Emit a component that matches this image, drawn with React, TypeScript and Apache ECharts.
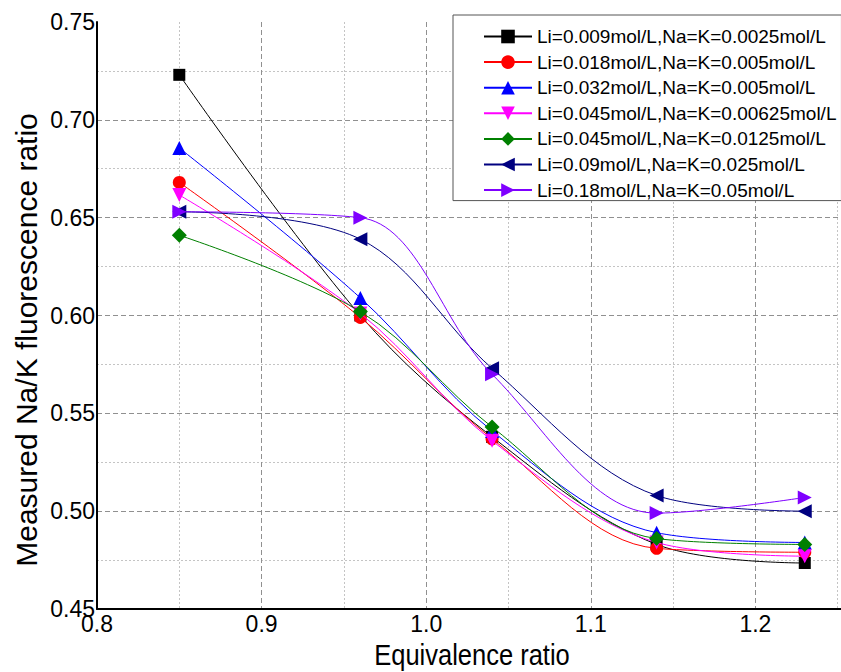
import React, { useEffect, useRef } from "react";
import * as echarts from "echarts";

const xValues = [0.85, 0.96, 1.04, 1.14, 1.23];
const seriesNames = [
  "Li=0.009mol/L,Na=K=0.0025mol/L",
  "Li=0.018mol/L,Na=K=0.005mol/L",
  "Li=0.032mol/L,Na=K=0.005mol/L",
  "Li=0.045mol/L,Na=K=0.00625mol/L",
  "Li=0.045mol/L,Na=K=0.0125mol/L",
  "Li=0.09mol/L,Na=K=0.025mol/L",
  "Li=0.18mol/L,Na=K=0.05mol/L",
];
const s1 = [0.723, 0.6, 0.538, 0.483, 0.4735];
const s2 = [0.668, 0.599, 0.537, 0.481, 0.479];
const s3 = [0.6856, 0.609, 0.541, 0.489, 0.484];
const s4 = [0.6616, 0.601, 0.536, 0.484, 0.477];
const s5 = [0.641, 0.602, 0.543, 0.486, 0.483];
const s6 = [0.653, 0.639, 0.573, 0.508, 0.5];
const s7 = [0.653, 0.65, 0.57, 0.499, 0.507];
const allValues = [s1, s2, s3, s4, s5, s6, s7];

const colors = ["#000000", "#ff0000", "#0000ff", "#ff00ff", "#008000", "#000080", "#7f00ff"];
const symbols = ["rect", "circle", "triangle", "triangle", "diamond", "triangle", "triangle"];
const rotations = [0, 0, 0, 180, 0, 90, -90];
const sizes = [12, 13, 14, 14, 15, 14, 14];

const FONT = "'Liberation Sans', Arial, sans-serif";

export default function App() {
  const ref = useRef<HTMLDivElement>(null);
  useEffect(() => {
    if (!ref.current) return;
    const chart = echarts.init(ref.current, null, { renderer: "svg" });
    const series = allValues.map((vals, i) => ({
      name: seriesNames[i],
      type: "line",
      data: vals.map((v, j) => [xValues[j], v]),
      smooth: 0.35,
      symbol: symbols[i],
      symbolSize: sizes[i],
      symbolRotate: rotations[i],
      color: colors[i],
      itemStyle: { color: colors[i] },
      lineStyle: { color: colors[i], width: 1 },
      z: 2 + i,
    }));
    chart.setOption({
      animation: false,
      backgroundColor: "#ffffff",
      grid: { left: 97, top: 22, bottom: 63, right: -79, containLabel: false, outerBoundsMode: "none" },
      legend: {
        orient: "vertical",
        left: 453,
        top: 15,
        padding: [12, 5, 1, 30],
        borderColor: "#555555",
        borderWidth: 1,
        backgroundColor: "#ffffff",
        itemWidth: 48,
        itemHeight: 17,
        itemGap: 6.6,
        textStyle: { fontFamily: FONT, fontSize: 19, color: "#000", lineHeight: 19 },
        data: seriesNames,
      },
      xAxis: {
        type: "value",
        min: 0.8,
        max: 1.3,
        interval: 0.1,
        axisLine: { show: true, lineStyle: { color: "#000", width: 2 } },
        axisTick: { show: false },
        axisLabel: {
          fontFamily: FONT,
          fontSize: 23,
          color: "#000",
          margin: 3,
          formatter: (v: number) => (v > 1.25 ? "" : v.toFixed(1)),
        },
        splitLine: { show: true, lineStyle: { color: "#909090", type: [5, 3], width: 1 } },
        minorTick: { show: false, splitNumber: 2 },
        minorSplitLine: { show: true, lineStyle: { color: "#c4c4c4", type: [2, 2], width: 1 } },
      },
      yAxis: {
        type: "value",
        min: 0.45,
        max: 0.75,
        interval: 0.05,
        axisLine: { show: true, lineStyle: { color: "#000", width: 2 } },
        axisTick: { show: false },
        axisLabel: {
          fontFamily: FONT,
          fontSize: 23,
          color: "#000",
          margin: 2,
          formatter: (v: number) => v.toFixed(2),
        },
        splitLine: { show: true, showMaxLine: false, lineStyle: { color: "#909090", type: [5, 3], width: 1 } },
        minorTick: { show: false, splitNumber: 2 },
        minorSplitLine: { show: true, lineStyle: { color: "#c4c4c4", type: [2, 2], width: 1 } },
      },
      graphic: [
        {
          type: "text",
          x: 26,
          y: 340,
          rotation: Math.PI / 2,
          style: {
            text: "Measured Na/K fluorescence ratio",
            font: `30px ${FONT}`,
            fill: "#000",
            align: "center",
            verticalAlign: "middle",
          },
        },
        {
          type: "text",
          x: 472,
          y: 655,
          scaleX: 0.85,
          style: {
            text: "Equivalence ratio",
            font: `30px ${FONT}`,
            fill: "#000",
            align: "center",
            verticalAlign: "middle",
          },
        },
      ],
      series,
    });
    return () => chart.dispose();
  }, []);
  return <div ref={ref} style={{ position: "absolute", left: 0, top: 0, width: 841, height: 672 }} />;
}
